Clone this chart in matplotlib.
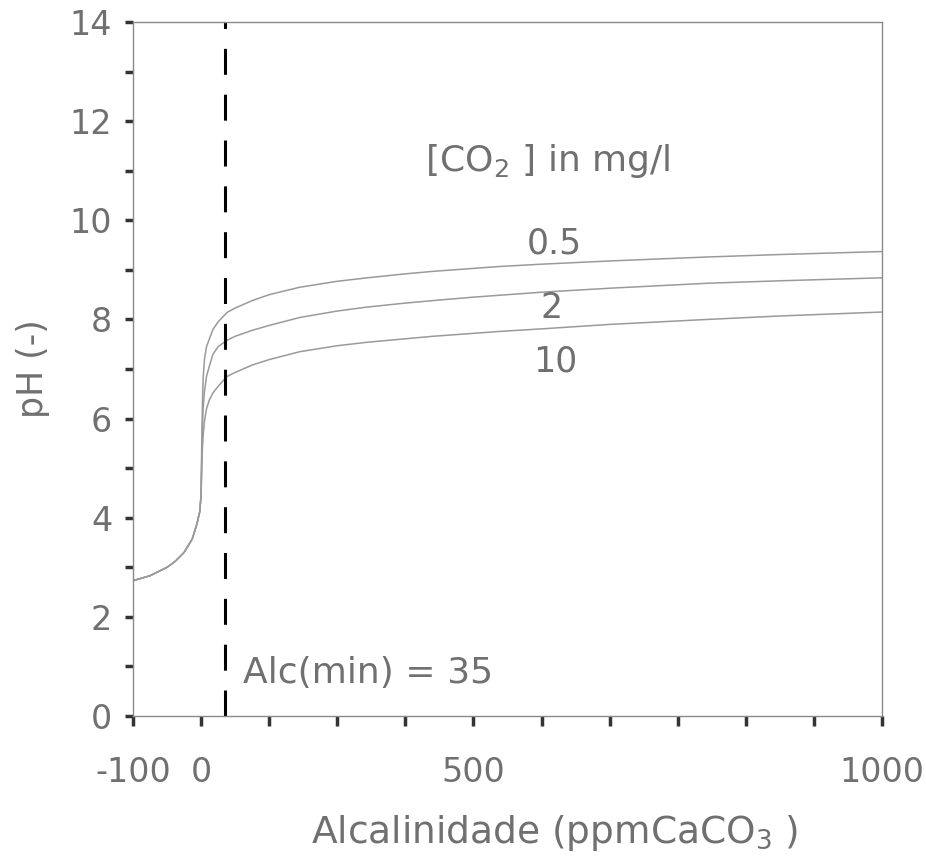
import matplotlib
matplotlib.use("Agg")
import matplotlib.pyplot as plt

plt.rcParams['font.family'] = ['DejaVu Sans']

# acid branch, shared by all curves
alk_acid = [-100, -75, -50, -38, -25, -13, -6, -2]
ph_acid = [2.73, 2.83, 3.0, 3.12, 3.3, 3.57, 3.88, 4.12]

# alkaline branch, one series per CO2 level
alk = [0, 1, 2, 3, 5, 8, 12, 17.5, 25, 38, 50, 75, 100, 145, 200, 244,
       300, 340, 400, 440, 500, 600, 743, 850, 1000]
ph_05 = [4.45, 5.5, 6.3, 6.8, 7.2, 7.45, 7.6, 7.8, 7.95, 8.14, 8.23, 8.38,
         8.5, 8.65, 8.77, 8.84, 8.92, 8.97, 9.03, 9.07, 9.115, 9.18, 9.26,
         9.31, 9.37]
ph_2 = [4.45, 5.2, 5.8, 6.2, 6.55, 6.85, 7.05, 7.3, 7.45, 7.58, 7.66, 7.78,
        7.88, 8.04, 8.17, 8.25, 8.33, 8.38, 8.45, 8.49, 8.55, 8.63, 8.73,
        8.78, 8.84]
ph_10 = [4.45, 5.0, 5.4, 5.65, 5.95, 6.2, 6.37, 6.52, 6.65, 6.85, 6.93,
         7.08, 7.19, 7.35, 7.47, 7.54, 7.61, 7.66, 7.72, 7.76, 7.81, 7.9,
         8.0, 8.07, 8.15]
series = [("0.5", ph_05), ("2", ph_2), ("10", ph_10)]
label_pos = {"0.5": (479, 9.34), "2": (498, 8.03), "10": (487, 6.94)}

alc_min = 35
xticks = list(range(-100, 1001, 100))
xtick_labels = ['-100', '0', '', '', '', '500', '', '', '', '', '', '1000']
yticks = list(range(0, 15))
ytick_labels = [str(v) if v % 2 == 0 else '' for v in yticks]

txt = '#707070'
curve = '#9a9a9a'

fig = plt.figure(figsize=(9.26, 8.61), dpi=100)
ax = fig.add_axes([0.1436, 0.1684, 0.8089, 0.806])

for name, ph in series:
    ax.plot(alk_acid + alk, ph_acid + ph, color=curve, lw=1.1)
    lx, ly = label_pos[name]
    ax.text(lx, ly, name, fontsize=25, color=txt, va='baseline', ha='left')

ax.plot([alc_min, alc_min], [0, 14], color='black', lw=2.2,
        dashes=(8.5, 6.5))
ax.text(61, 0.67, 'Alc(min) = 35', fontsize=26, color=txt, va='baseline')
ax.text(329, 11.0, '[CO$_2$ ] in mg/l', fontsize=26, color=txt,
        va='baseline')

ax.set_xlim(-100, 1000)
ax.set_ylim(0, 14)
ax.set_xticks(xticks)
ax.set_xticklabels(xtick_labels)
ax.set_yticks(yticks)
ax.set_yticklabels(ytick_labels)
ax.tick_params(axis='x', direction='out', length=7, width=2.5,
               color='#333333', labelsize=24, labelcolor=txt, pad=22)
ax.tick_params(axis='y', direction='out', length=6, width=2.5,
               color='#333333', labelsize=24, labelcolor=txt, pad=9)
for s in ax.spines.values():
    s.set_color('#8a8a8a')
    s.set_linewidth(1.0)

ax.set_xlabel('Alcalinidade (ppmCaCO$_3$ )', fontsize=27, color=txt)
ax.xaxis.set_label_coords(0.563, -0.14)
ax.set_ylabel('pH (-)', fontsize=25, color=txt)
ax.yaxis.set_label_coords(-0.111, 0.5)

fig.savefig('out.png', dpi=100)
